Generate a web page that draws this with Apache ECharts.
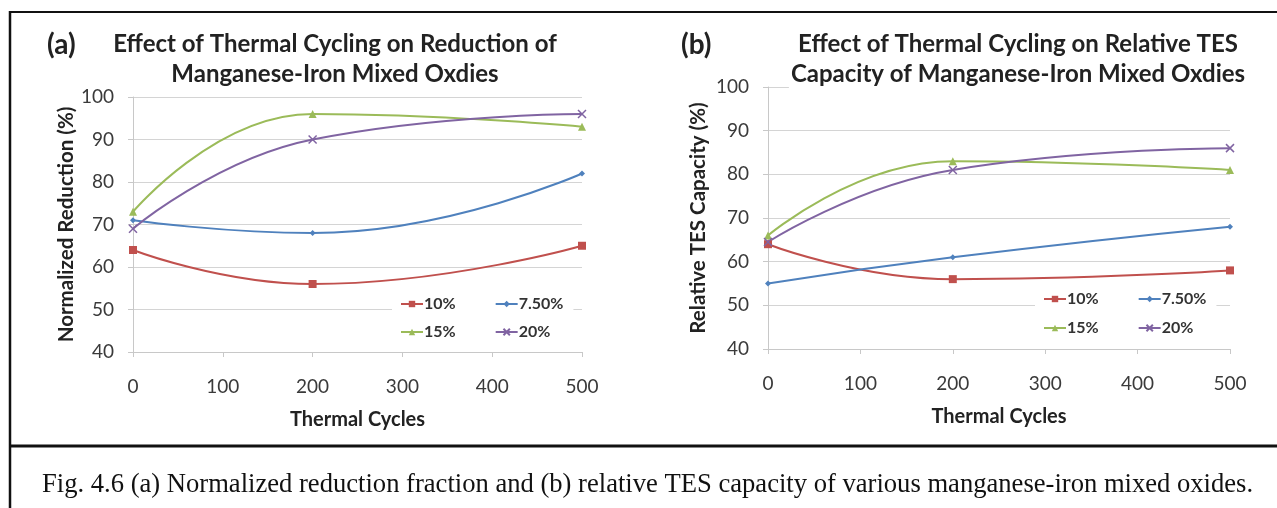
<!DOCTYPE html>
<html>
<head>
<meta charset="utf-8">
<script src="https://cdn.jsdelivr.net/npm/echarts@6/dist/echarts.min.js"></script>
<style>
  html, body { margin: 0; padding: 0; background: #fff; }
  #chart { width: 1277px; height: 508px; }
</style>
</head>
<body>
<div id="chart"></div>
<script>
// data
var cycles = [0, 200, 500];
var seriesNames = ['10%', '7.50%', '15%', '20%'];
var xTicks = [0, 100, 200, 300, 400, 500];

// (a) normalized reduction (%)
var redA10 = [64, 56, 65];
var redA75 = [71, 68, 82];
var redA15 = [73, 96, 93];
var redA20 = [69, 90, 96];

// (b) relative TES capacity (%)
var tesB10 = [64, 56, 58];
var tesB75 = [55, 61, 68];
var tesB15 = [66, 83, 81];
var tesB20 = [64.5, 81, 86];

var colors = ['#C0504D', '#4F81BD', '#9BBB59', '#8064A2'];
var symbols = ['rect', 'diamond', 'triangle', 'path://M0,0L10,10M10,0L0,10'];
var symSizes = [8, 6, 8, 8];

var FONT = 'Lato, "Open Sans", sans-serif';

var chart = echarts.init(document.getElementById('chart'));

function pairs(vals) {
    var out = [];
    for (var i = 0; i < cycles.length; i++) out.push([cycles[i], vals[i]]);
    return out;
}

function makeSeries(gridIdx, sets) {
    var list = [];
    for (var i = 0; i < sets.length; i++) {
        var isX = i === 3;
        list.push({
            name: seriesNames[i],
            type: 'line',
            xAxisIndex: gridIdx,
            yAxisIndex: gridIdx,
            smooth: 0.5,
            data: pairs(sets[i]),
            symbol: symbols[i],
            symbolSize: symSizes[i],
            showAllSymbol: true,
            lineStyle: { color: colors[i], width: 2 },
            itemStyle: isX ? { color: 'transparent', borderColor: colors[i], borderWidth: 1.5 } : { color: colors[i], borderWidth: 0 },
            emphasis: { disabled: true },
            animation: false
        });
    }
    return list;
}

function xAxisOpt(gridIdx) {
    return {
        type: 'value', gridIndex: gridIdx, min: 0, max: 500, interval: 100,
        name: 'Thermal Cycles', nameLocation: 'middle', nameGap: 58,
        nameTextStyle: { fontFamily: FONT, fontSize: 20, fontWeight: 'bold', color: '#222' },
        axisLine: { show: true, lineStyle: { color: '#c8c8c8', width: 1 } },
        axisTick: { show: true, length: 5, lineStyle: { color: '#c8c8c8' } },
        axisLabel: { fontFamily: FONT, fontSize: 19, color: '#3a3a3a', margin: 25 },
        splitLine: { show: false }
    };
}

function yAxisOpt(gridIdx, name, gap) {
    return {
        type: 'value', gridIndex: gridIdx, min: 40, max: 100, interval: 10,
        name: name, nameLocation: 'middle', nameGap: gap,
        nameTextStyle: { fontFamily: FONT, fontSize: 20.5, fontWeight: 'bold', color: '#222' },
        axisLine: { show: true, lineStyle: { color: '#c8c8c8', width: 1 } },
        axisTick: { show: true, length: 5, lineStyle: { color: '#c8c8c8' } },
        axisLabel: { fontFamily: FONT, fontSize: 19, color: '#3a3a3a', margin: 19 },
        splitLine: { show: true, lineStyle: { color: '#d4d4d4', width: 1 } }
    };
}

// one legend per row, so two rows per chart
function legendOpt(names, left, top) {
    return {
        data: names, left: left, top: top, orient: 'horizontal',
        itemWidth: 22, itemHeight: 8, itemGap: 39,
        backgroundColor: '#fff', padding: [4, 10, 4, 8],
        textStyle: { fontFamily: FONT, fontSize: 16, fontWeight: 'bold', color: '#333', padding: [0, 0, 0, -4] }
    };
}

var titleStyle = { fontFamily: FONT, fontSize: 24, fontWeight: 'bold', color: '#222', lineHeight: 30 };
var tagStyle = { fontFamily: FONT, fontSize: 28, fontWeight: 'bold', color: '#222' };

chart.setOption({
    backgroundColor: '#fff',
    animation: false,
    title: [
        { text: '(a)', left: 47, top: 31, padding: 0, textStyle: tagStyle },
        { text: 'Effect of Thermal Cycling on Reduction of\nManganese-Iron Mixed Oxdies', left: 335, top: 29, padding: 0, textAlign: 'center', textStyle: titleStyle },
        { text: '(b)', left: 681, top: 31, padding: 0, textStyle: tagStyle },
        { text: 'Effect of Thermal Cycling on Relative TES\nCapacity of Manganese-Iron Mixed Oxdies', left: 1016, top: 29, textAlign: 'center', backgroundColor: '#fff', padding: [0, 2, 0, 2], textStyle: titleStyle }
    ],
    grid: [
        { left: 133, right: 695, top: 97, bottom: 156 },
        { left: 768, right: 47, top: 87, bottom: 159 }
    ],
    legend: [
        legendOpt(['10%', '7.50%'], 392, 292),
        legendOpt(['15%', '20%'], 392, 320),
        legendOpt(['10%', '7.50%'], 1035, 287),
        legendOpt(['15%', '20%'], 1035, 316)
    ],
    xAxis: [xAxisOpt(0), xAxisOpt(1)],
    yAxis: [yAxisOpt(0, 'Normalized Reduction (%)', 56), yAxisOpt(1, 'Relative TES Capacity (%)', 59)],
    series: makeSeries(0, [redA10, redA75, redA15, redA20]).concat(makeSeries(1, [tesB10, tesB75, tesB15, tesB20])),
    graphic: [
        // page frame
        { type: 'line', shape: { x1: 9, y1: 12, x2: 1277, y2: 12 }, style: { stroke: '#111', lineWidth: 2 } },
        { type: 'line', shape: { x1: 10, y1: 11, x2: 10, y2: 508 }, style: { stroke: '#111', lineWidth: 2.5 } },
        { type: 'line', shape: { x1: 9, y1: 446, x2: 1277, y2: 446 }, style: { stroke: '#111', lineWidth: 3 } },
        // figure caption
        { type: 'text', left: 42, top: 472,
          style: { text: 'Fig. 4.6 (a) Normalized reduction fraction and (b) relative TES capacity of various manganese-iron mixed oxides.',
                   font: '26.6px "Liberation Serif", "DejaVu Serif", serif', fill: '#111' } }
    ]
});
</script>
</body>
</html>
